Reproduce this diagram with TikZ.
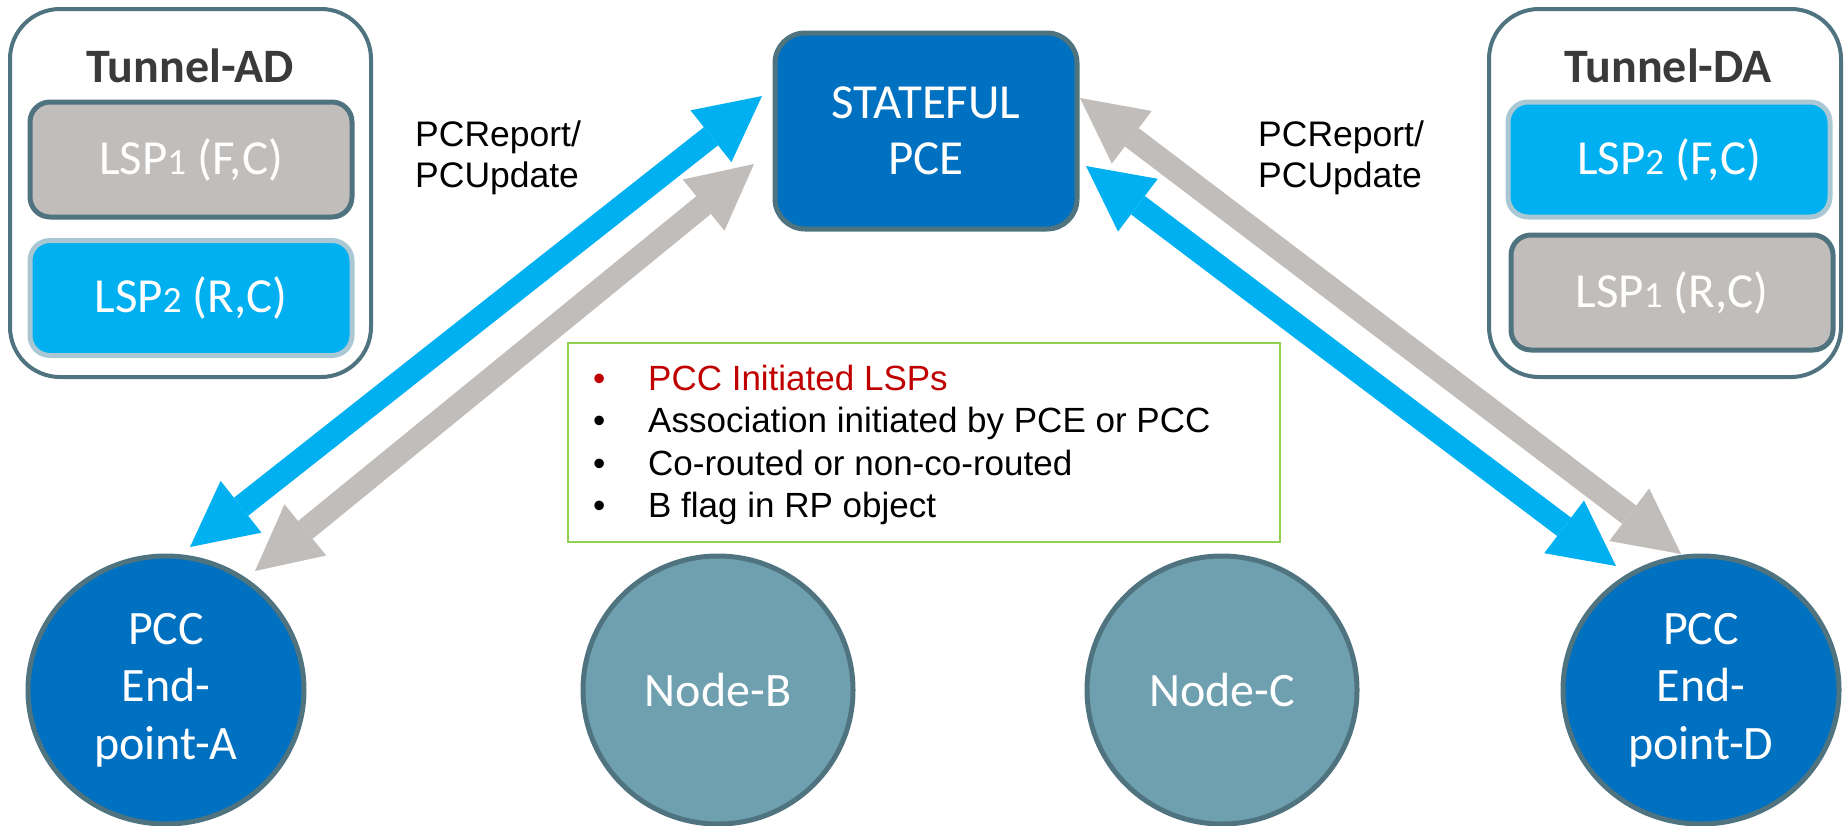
\documentclass[tikz,border=0pt]{standalone}
\usepackage{fontspec}
\setmainfont{Carlito}
\newfontfamily\arialfont{Liberation Sans}
\usetikzlibrary{arrows.meta,shapes.geometric}
\definecolor{edgeblue}{RGB}{80,115,128}
\definecolor{lspgray}{RGB}{192,189,186}
\definecolor{lspblue}{RGB}{0,176,240}
\definecolor{lspblueedge}{RGB}{169,200,211}
\definecolor{pceblue}{RGB}{0,112,192}
\definecolor{nodeteal}{RGB}{111,160,176}
\definecolor{boxgreen}{RGB}{146,208,80}
\definecolor{alertred}{RGB}{192,0,0}
\definecolor{titlegray}{RGB}{58,58,58}
\newcommand\oldnum[1]{{\fontsize{37}{40}\selectfont #1}}
\begin{document}
\begin{tikzpicture}[x=1pt,y=-1pt,
  tunnelbox/.style={draw=edgeblue, line width=4pt, rounded corners=50pt, fill=white, inner sep=0pt, outer sep=0pt},
  tunneltitle/.style={font=\fontsize{48}{56}\selectfont\bfseries, text=titlegray, anchor=base, inner sep=0pt},
  lspgraybox/.style={draw=edgeblue, fill=lspgray, line width=5pt, rounded corners=20pt, minimum width=322pt, minimum height=115pt, text=white, font=\fontsize{49}{56}\selectfont, inner sep=0pt},
  lspbluebox/.style={draw=lspblueedge, fill=lspblue, line width=5pt, rounded corners=20pt, minimum width=322pt, minimum height=115pt, text=white, font=\fontsize{49}{56}\selectfont, inner sep=0pt},
  pcebox/.style={draw=edgeblue, fill=pceblue, line width=5pt, rounded corners=30pt, minimum width=302pt, minimum height=196pt, text=white, align=center, font=\fontsize{49}{56}\selectfont, inner sep=0pt},
  pccnode/.style={ellipse, draw=edgeblue, fill=pceblue, line width=5pt, minimum width=276pt, minimum height=268pt, text=white, align=center, font=\fontsize{48}{57.5}\selectfont, inner sep=0pt},
  plainnode/.style={ellipse, draw=edgeblue, fill=nodeteal, line width=5pt, minimum width=270pt, minimum height=268pt, text=white, font=\fontsize{48}{57.5}\selectfont, inner sep=0pt},
  infobox/.style={draw=boxgreen, line width=2pt, minimum width=712pt, minimum height=199pt, inner sep=0pt},
  infotext/.style={font=\arialfont\fontsize{35}{42}\selectfont, anchor=base west, inner sep=0pt},
  msglabel/.style={font=\arialfont\fontsize{35.5}{41}\selectfont, align=left, anchor=north west, inner sep=0pt},
  flowtip/.tip={Triangle[length=65pt,width=66pt,line width=0pt]},
  blueflow/.style={draw=lspblue, line width=23pt, {flowtip}-{flowtip}},
  grayflow/.style={draw=lspgray, line width=23pt, {flowtip}-{flowtip}}
]
\useasboundingbox (0,0) rectangle (1846,825);

% Tunnel boxes
\node[tunnelbox, minimum width=361pt, minimum height=368pt] (tunAD) at (190.5,193) {};
\node[tunneltitle] (titleAD) at (190,82) {Tunnel-AD};
\node[lspgraybox] (lsp1AD) at (191,159.5) {LSP\oldnum{1} (F,C)};
\node[lspbluebox] (lsp2AD) at (191,298) {LSP\oldnum{2} (R,C)};

\node[tunnelbox, minimum width=352pt, minimum height=368pt] (tunDA) at (1665,193) {};
\node[tunneltitle] (titleDA) at (1668,82) {Tunnel-DA};
\node[lspbluebox] (lsp2DA) at (1669,159.5) {LSP\oldnum{2} (F,C)};
\node[lspgraybox] (lsp1DA) at (1672,292.5) {LSP\oldnum{1} (R,C)};

% PCE
\node[pcebox] (pce) at (926,131) {STATEFUL\\PCE};

% message labels
\node[msglabel] (msgL) at (415,121) {PCReport/\\PCUpdate};
\node[msglabel] (msgR) at (1258,121) {PCReport/\\PCUpdate};

% info box
\node[infobox] (info) at (924,442.5) {};
\node[infotext, text=alertred] (d1) at (593,390) {•};
\node[infotext, text=alertred] (t1) at (648,390) {PCC Initiated LSPs};
\node[infotext] (d2) at (593,432.5) {•};
\node[infotext] (t2) at (648,432.5) {Association initiated by PCE or PCC};
\node[infotext] (d3) at (593,475) {•};
\node[infotext] (t3) at (648,475) {Co-routed or non-co-routed};
\node[infotext] (d4) at (593,517) {•};
\node[infotext] (t4) at (648,517) {B flag in RP object};

% bottom nodes
\node[pccnode] (epA) at (166,690) {PCC\\End-\\point-A};
\node[plainnode] (nodeB) at (718,690) {Node-B};
\node[plainnode] (nodeC) at (1222,690) {Node-C};
\node[pccnode] (epD) at (1701,690) {PCC\\End-\\point-D};

% arrow end points
\coordinate (aBlue) at (190,547);
\coordinate (pBlueL) at (762,96);
\coordinate (aGray) at (255,571);
\coordinate (pGrayL) at (754,164);
\coordinate (pGrayR) at (1080,98);
\coordinate (dGray) at (1681,554);
\coordinate (pBlueR) at (1086,166);
\coordinate (dBlue) at (1616,566);

\draw[blueflow] (aBlue) -- (pBlueL);
\draw[grayflow] (aGray) -- (pGrayL);
\draw[grayflow] (pGrayR) -- (dGray);
\draw[blueflow] (pBlueR) -- (dBlue);
\end{tikzpicture}
\end{document}
